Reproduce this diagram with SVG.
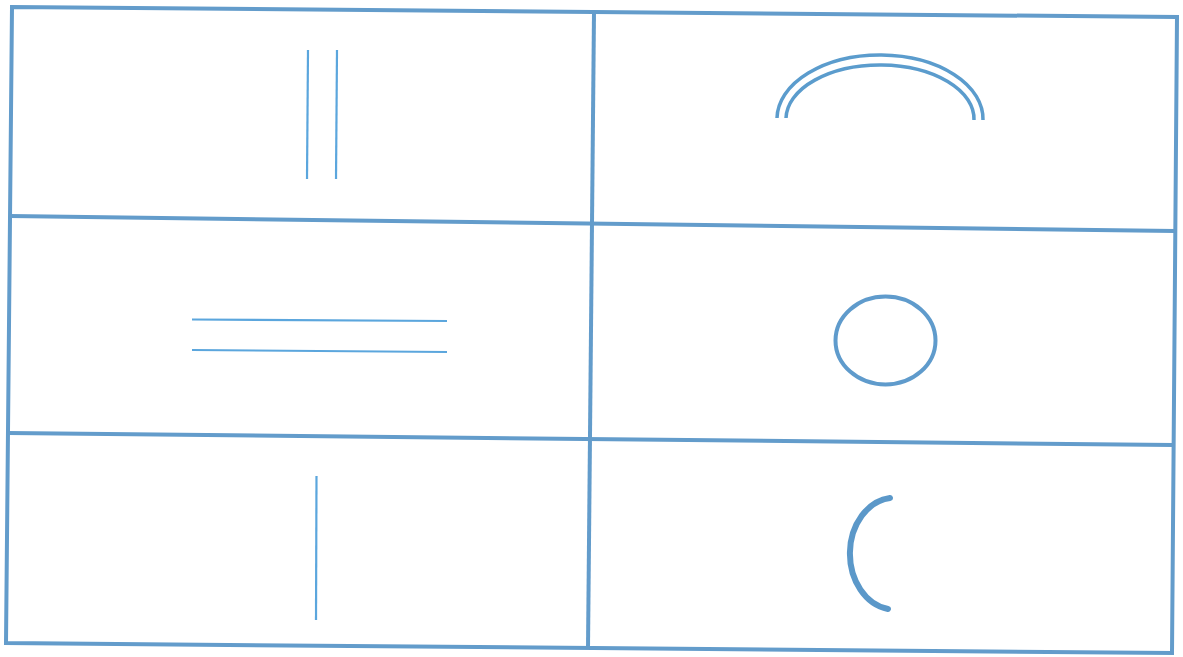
<svg xmlns="http://www.w3.org/2000/svg" width="1183" height="657" viewBox="0 0 1183 657">
<style>
.grid{fill:none;stroke:#639ccb;stroke-width:4;stroke-linejoin:miter}
.thin{fill:none;stroke:#5ba6dd;stroke-width:2.2;stroke-linecap:butt}
.arc{fill:none;stroke:#5b9ccd;stroke-width:3.5}
</style>
<rect width="1183" height="657" fill="#ffffff"/>
<g id="grid">
<polygon class="grid" points="12,7 1177,17 1172,653 6,643"/>
<line class="grid" x1="594" y1="12" x2="588" y2="648"/>
<line class="grid" x1="10" y1="216" x2="1175" y2="231"/>
<line class="grid" x1="8" y1="433" x2="1173" y2="445"/>
</g>
<g id="cell-double-vertical">
<line class="thin" x1="308" y1="50" x2="307" y2="179"/>
<line class="thin" x1="337" y1="50" x2="336" y2="179"/>
</g>
<g id="cell-double-arc">
<path class="arc" d="M777,118 A103,64 0 0 1 983,120"/>
<path class="arc" d="M786,118 A94,54 0 0 1 974,120"/>
</g>
<g id="cell-double-horizontal">
<line class="thin" x1="192" y1="319.5" x2="447" y2="321"/>
<line class="thin" x1="192" y1="350" x2="447" y2="352"/>
</g>
<g id="cell-circle">
<ellipse cx="885.5" cy="340.5" rx="50" ry="44" fill="none" stroke="#5f9bcc" stroke-width="4"/>
</g>
<g id="cell-single-vertical">
<line class="thin" x1="316.5" y1="476" x2="316" y2="620"/>
</g>
<g id="cell-half-arc">
<path d="M890,498 A45,56 0 0 0 888,609" fill="none" stroke="#5b98c9" stroke-width="6" stroke-linecap="round"/>
</g>
</svg>
